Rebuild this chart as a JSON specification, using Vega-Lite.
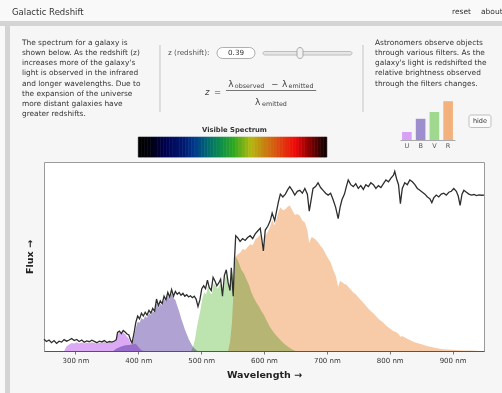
{
  "$schema": "https://vega.github.io/schema/vega-lite/v6.json",
  "width": 440,
  "height": 189,
  "autosize": "none",
  "padding": {"left": 44, "top": 162, "right": 18, "bottom": 42},
  "background": "#f6f6f6",
  "view": {"fill": "#ffffff", "stroke": "#9a9a9a", "strokeWidth": 1},
  "config": {"font": "DejaVu Sans"},
  "datasets": {
    "one": [{}],
    "spectrum": [
      {"nm":250,"flux":0.062},{"nm":254,"flux":0.050},{"nm":258,"flux":0.058},{"nm":262,"flux":0.044},{"nm":266,"flux":0.055},{"nm":270,"flux":0.040},{"nm":274,"flux":0.052},{"nm":278,"flux":0.047},{"nm":282,"flux":0.060},{"nm":286,"flux":0.052},{"nm":290,"flux":0.058},{"nm":294,"flux":0.066},{"nm":298,"flux":0.055},{"nm":302,"flux":0.061},{"nm":306,"flux":0.050},{"nm":310,"flux":0.058},{"nm":314,"flux":0.046},{"nm":318,"flux":0.053},{"nm":322,"flux":0.049},{"nm":326,"flux":0.057},{"nm":330,"flux":0.051},{"nm":334,"flux":0.044},{"nm":338,"flux":0.052},{"nm":342,"flux":0.048},{"nm":346,"flux":0.055},{"nm":350,"flux":0.045},{"nm":354,"flux":0.050},{"nm":358,"flux":0.047},{"nm":362,"flux":0.053},{"nm":365,"flux":0.060},
      {"nm":367,"flux":0.098},{"nm":370,"flux":0.105},{"nm":373,"flux":0.092},{"nm":376,"flux":0.108},{"nm":379,"flux":0.100},{"nm":382,"flux":0.090},{"nm":385,"flux":0.085},{"nm":388,"flux":0.055},{"nm":390,"flux":0.042},{"nm":393,"flux":0.090},{"nm":396,"flux":0.150},{"nm":399,"flux":0.185},{"nm":402,"flux":0.170},{"nm":405,"flux":0.200},{"nm":408,"flux":0.185},{"nm":411,"flux":0.205},{"nm":414,"flux":0.190},{"nm":417,"flux":0.215},{"nm":420,"flux":0.200},{"nm":423,"flux":0.225},{"nm":426,"flux":0.210},{"nm":429,"flux":0.275},{"nm":432,"flux":0.240},{"nm":435,"flux":0.265},{"nm":438,"flux":0.250},{"nm":441,"flux":0.290},{"nm":444,"flux":0.270},{"nm":447,"flux":0.310},{"nm":450,"flux":0.285},{"nm":453,"flux":0.325},{"nm":456,"flux":0.290},{"nm":459,"flux":0.315},{"nm":462,"flux":0.300},{"nm":465,"flux":0.310},{"nm":468,"flux":0.295},{"nm":471,"flux":0.305},{"nm":474,"flux":0.290},{"nm":477,"flux":0.298},{"nm":480,"flux":0.286},{"nm":483,"flux":0.292},{"nm":486,"flux":0.282},{"nm":489,"flux":0.290},{"nm":492,"flux":0.275},{"nm":495,"flux":0.235},{"nm":498,"flux":0.270},
      {"nm":501,"flux":0.330},{"nm":504,"flux":0.345},{"nm":507,"flux":0.330},{"nm":510,"flux":0.375},{"nm":513,"flux":0.335},{"nm":516,"flux":0.320},{"nm":519,"flux":0.390},{"nm":522,"flux":0.370},{"nm":525,"flux":0.345},{"nm":528,"flux":0.360},{"nm":531,"flux":0.380},{"nm":534,"flux":0.290},{"nm":537,"flux":0.400},{"nm":540,"flux":0.430},{"nm":543,"flux":0.360},{"nm":546,"flux":0.320},{"nm":548,"flux":0.440},{"nm":551,"flux":0.290},{"nm":553,"flux":0.480},{"nm":555,"flux":0.610},{"nm":558,"flux":0.600},{"nm":562,"flux":0.580},{"nm":566,"flux":0.595},{"nm":570,"flux":0.585},{"nm":574,"flux":0.600},{"nm":578,"flux":0.610},{"nm":582,"flux":0.595},{"nm":586,"flux":0.620},{"nm":590,"flux":0.635},{"nm":594,"flux":0.650},{"nm":597,"flux":0.580},{"nm":599,"flux":0.530},
      {"nm":602,"flux":0.640},{"nm":606,"flux":0.660},{"nm":610,"flux":0.690},{"nm":613,"flux":0.730},{"nm":617,"flux":0.690},{"nm":620,"flux":0.740},{"nm":623,"flux":0.790},{"nm":626,"flux":0.830},{"nm":630,"flux":0.815},{"nm":634,"flux":0.830},{"nm":638,"flux":0.855},{"nm":641,"flux":0.870},{"nm":645,"flux":0.850},{"nm":649,"flux":0.825},{"nm":653,"flux":0.845},{"nm":657,"flux":0.850},{"nm":661,"flux":0.835},{"nm":665,"flux":0.860},{"nm":669,"flux":0.830},{"nm":672,"flux":0.740},{"nm":675,"flux":0.800},{"nm":678,"flux":0.860},{"nm":682,"flux":0.870},{"nm":686,"flux":0.890},{"nm":690,"flux":0.865},{"nm":694,"flux":0.850},{"nm":698,"flux":0.835},
      {"nm":702,"flux":0.825},{"nm":706,"flux":0.835},{"nm":710,"flux":0.800},{"nm":714,"flux":0.760},{"nm":718,"flux":0.700},{"nm":721,"flux":0.760},{"nm":724,"flux":0.800},{"nm":728,"flux":0.830},{"nm":731,"flux":0.870},{"nm":734,"flux":0.905},{"nm":738,"flux":0.880},{"nm":742,"flux":0.870},{"nm":746,"flux":0.885},{"nm":750,"flux":0.860},{"nm":754,"flux":0.875},{"nm":758,"flux":0.855},{"nm":762,"flux":0.880},{"nm":766,"flux":0.870},{"nm":770,"flux":0.890},{"nm":774,"flux":0.880},{"nm":778,"flux":0.860},{"nm":782,"flux":0.875},{"nm":786,"flux":0.865},{"nm":790,"flux":0.885},{"nm":794,"flux":0.905},{"nm":798,"flux":0.895},
      {"nm":802,"flux":0.915},{"nm":806,"flux":0.930},{"nm":808,"flux":0.950},{"nm":811,"flux":0.910},{"nm":814,"flux":0.880},{"nm":817,"flux":0.780},{"nm":820,"flux":0.860},{"nm":824,"flux":0.890},{"nm":828,"flux":0.880},{"nm":832,"flux":0.905},{"nm":836,"flux":0.895},{"nm":840,"flux":0.880},{"nm":844,"flux":0.860},{"nm":848,"flux":0.850},{"nm":852,"flux":0.840},{"nm":856,"flux":0.830},{"nm":860,"flux":0.815},{"nm":864,"flux":0.805},{"nm":867,"flux":0.785},{"nm":870,"flux":0.810},{"nm":874,"flux":0.825},{"nm":878,"flux":0.815},{"nm":882,"flux":0.830},{"nm":886,"flux":0.835},{"nm":890,"flux":0.825},{"nm":894,"flux":0.840},{"nm":898,"flux":0.845},
      {"nm":902,"flux":0.860},{"nm":906,"flux":0.845},{"nm":909,"flux":0.820},{"nm":912,"flux":0.770},{"nm":915,"flux":0.830},{"nm":918,"flux":0.850},{"nm":922,"flux":0.840},{"nm":926,"flux":0.830},{"nm":930,"flux":0.825},{"nm":934,"flux":0.828},{"nm":938,"flux":0.822},{"nm":942,"flux":0.826},{"nm":946,"flux":0.824},{"nm":950,"flux":0.825}
    ],
    "filters": [
      {"filter":"U","nm":282,"flux":0},{"filter":"U","nm":286,"flux":0.025},{"filter":"U","nm":290,"flux":0.035},{"filter":"U","nm":294,"flux":0.042},{"filter":"U","nm":298,"flux":0.040},{"filter":"U","nm":302,"flux":0.046},{"filter":"U","nm":306,"flux":0.040},{"filter":"U","nm":310,"flux":0.045},{"filter":"U","nm":314,"flux":0.040},{"filter":"U","nm":318,"flux":0.044},{"filter":"U","nm":322,"flux":0.041},{"filter":"U","nm":326,"flux":0.046},{"filter":"U","nm":330,"flux":0.042},{"filter":"U","nm":334,"flux":0.038},{"filter":"U","nm":338,"flux":0.044},{"filter":"U","nm":342,"flux":0.042},{"filter":"U","nm":346,"flux":0.047},{"filter":"U","nm":350,"flux":0.040},{"filter":"U","nm":354,"flux":0.045},{"filter":"U","nm":358,"flux":0.044},{"filter":"U","nm":362,"flux":0.050},{"filter":"U","nm":365,"flux":0.058},{"filter":"U","nm":367,"flux":0.090},{"filter":"U","nm":370,"flux":0.098},{"filter":"U","nm":373,"flux":0.088},{"filter":"U","nm":376,"flux":0.098},{"filter":"U","nm":379,"flux":0.088},{"filter":"U","nm":382,"flux":0.075},{"filter":"U","nm":385,"flux":0.065},{"filter":"U","nm":388,"flux":0.040},{"filter":"U","nm":391,"flux":0.030},{"filter":"U","nm":394,"flux":0.040},{"filter":"U","nm":397,"flux":0.035},{"filter":"U","nm":400,"flux":0.022},{"filter":"U","nm":403,"flux":0.010},{"filter":"U","nm":406,"flux":0.003},{"filter":"U","nm":409,"flux":0},
      {"filter":"B","nm":360,"flux":0},{"filter":"B","nm":365,"flux":0.012},{"filter":"B","nm":370,"flux":0.020},{"filter":"B","nm":375,"flux":0.026},{"filter":"B","nm":380,"flux":0.030},{"filter":"B","nm":385,"flux":0.032},{"filter":"B","nm":390,"flux":0.035},{"filter":"B","nm":393,"flux":0.070},{"filter":"B","nm":396,"flux":0.120},{"filter":"B","nm":399,"flux":0.155},{"filter":"B","nm":402,"flux":0.150},{"filter":"B","nm":405,"flux":0.175},{"filter":"B","nm":408,"flux":0.165},{"filter":"B","nm":411,"flux":0.185},{"filter":"B","nm":414,"flux":0.175},{"filter":"B","nm":417,"flux":0.200},{"filter":"B","nm":420,"flux":0.190},{"filter":"B","nm":423,"flux":0.210},{"filter":"B","nm":426,"flux":0.200},{"filter":"B","nm":429,"flux":0.255},{"filter":"B","nm":432,"flux":0.225},{"filter":"B","nm":435,"flux":0.250},{"filter":"B","nm":438,"flux":0.240},{"filter":"B","nm":441,"flux":0.275},{"filter":"B","nm":444,"flux":0.260},{"filter":"B","nm":447,"flux":0.295},{"filter":"B","nm":450,"flux":0.270},{"filter":"B","nm":453,"flux":0.305},{"filter":"B","nm":456,"flux":0.280},{"filter":"B","nm":459,"flux":0.270},{"filter":"B","nm":462,"flux":0.240},{"filter":"B","nm":465,"flux":0.210},{"filter":"B","nm":468,"flux":0.175},{"filter":"B","nm":471,"flux":0.145},{"filter":"B","nm":474,"flux":0.115},{"filter":"B","nm":477,"flux":0.090},{"filter":"B","nm":480,"flux":0.065},{"filter":"B","nm":483,"flux":0.045},{"filter":"B","nm":486,"flux":0.028},{"filter":"B","nm":489,"flux":0.014},{"filter":"B","nm":492,"flux":0.005},{"filter":"B","nm":495,"flux":0},
      {"filter":"V","nm":484,"flux":0},{"filter":"V","nm":487,"flux":0.020},{"filter":"V","nm":490,"flux":0.060},{"filter":"V","nm":493,"flux":0.120},{"filter":"V","nm":496,"flux":0.170},{"filter":"V","nm":499,"flux":0.220},{"filter":"V","nm":502,"flux":0.280},{"filter":"V","nm":505,"flux":0.310},{"filter":"V","nm":508,"flux":0.300},{"filter":"V","nm":511,"flux":0.345},{"filter":"V","nm":514,"flux":0.310},{"filter":"V","nm":517,"flux":0.300},{"filter":"V","nm":520,"flux":0.360},{"filter":"V","nm":523,"flux":0.345},{"filter":"V","nm":526,"flux":0.330},{"filter":"V","nm":529,"flux":0.345},{"filter":"V","nm":532,"flux":0.360},{"filter":"V","nm":535,"flux":0.290},{"filter":"V","nm":538,"flux":0.380},{"filter":"V","nm":541,"flux":0.410},{"filter":"V","nm":544,"flux":0.350},{"filter":"V","nm":547,"flux":0.330},{"filter":"V","nm":550,"flux":0.420},{"filter":"V","nm":552,"flux":0.360},{"filter":"V","nm":554,"flux":0.500},{"filter":"V","nm":557,"flux":0.490},{"filter":"V","nm":560,"flux":0.465},{"filter":"V","nm":564,"flux":0.430},{"filter":"V","nm":568,"flux":0.410},{"filter":"V","nm":572,"flux":0.380},{"filter":"V","nm":576,"flux":0.350},{"filter":"V","nm":580,"flux":0.310},{"filter":"V","nm":584,"flux":0.280},{"filter":"V","nm":588,"flux":0.255},{"filter":"V","nm":592,"flux":0.235},{"filter":"V","nm":596,"flux":0.210},{"filter":"V","nm":600,"flux":0.190},{"filter":"V","nm":605,"flux":0.155},{"filter":"V","nm":610,"flux":0.125},{"filter":"V","nm":615,"flux":0.100},{"filter":"V","nm":620,"flux":0.080},{"filter":"V","nm":625,"flux":0.062},{"filter":"V","nm":630,"flux":0.045},{"filter":"V","nm":635,"flux":0.030},{"filter":"V","nm":640,"flux":0.018},{"filter":"V","nm":645,"flux":0.008},{"filter":"V","nm":650,"flux":0},
      {"filter":"R","nm":543,"flux":0},{"filter":"R","nm":546,"flux":0.050},{"filter":"R","nm":549,"flux":0.150},{"filter":"R","nm":551,"flux":0.280},{"filter":"R","nm":553,"flux":0.420},{"filter":"R","nm":555,"flux":0.500},{"filter":"R","nm":558,"flux":0.510},{"filter":"R","nm":562,"flux":0.520},{"filter":"R","nm":566,"flux":0.540},{"filter":"R","nm":570,"flux":0.535},{"filter":"R","nm":574,"flux":0.550},{"filter":"R","nm":578,"flux":0.565},{"filter":"R","nm":582,"flux":0.560},{"filter":"R","nm":586,"flux":0.590},{"filter":"R","nm":590,"flux":0.600},{"filter":"R","nm":594,"flux":0.615},{"filter":"R","nm":597,"flux":0.560},{"filter":"R","nm":599,"flux":0.520},{"filter":"R","nm":602,"flux":0.610},{"filter":"R","nm":606,"flux":0.630},{"filter":"R","nm":610,"flux":0.660},{"filter":"R","nm":613,"flux":0.695},{"filter":"R","nm":617,"flux":0.665},{"filter":"R","nm":620,"flux":0.700},{"filter":"R","nm":623,"flux":0.735},{"filter":"R","nm":626,"flux":0.760},{"filter":"R","nm":630,"flux":0.745},{"filter":"R","nm":634,"flux":0.750},{"filter":"R","nm":638,"flux":0.765},{"filter":"R","nm":641,"flux":0.770},{"filter":"R","nm":645,"flux":0.745},{"filter":"R","nm":649,"flux":0.720},{"filter":"R","nm":653,"flux":0.725},{"filter":"R","nm":657,"flux":0.715},{"filter":"R","nm":661,"flux":0.690},{"filter":"R","nm":665,"flux":0.680},{"filter":"R","nm":669,"flux":0.640},{"filter":"R","nm":672,"flux":0.570},{"filter":"R","nm":675,"flux":0.600},{"filter":"R","nm":678,"flux":0.600},{"filter":"R","nm":682,"flux":0.590},{"filter":"R","nm":686,"flux":0.575},{"filter":"R","nm":690,"flux":0.555},{"filter":"R","nm":694,"flux":0.540},{"filter":"R","nm":698,"flux":0.515},{"filter":"R","nm":702,"flux":0.490},{"filter":"R","nm":706,"flux":0.470},{"filter":"R","nm":710,"flux":0.430},{"filter":"R","nm":714,"flux":0.400},{"filter":"R","nm":718,"flux":0.340},{"filter":"R","nm":721,"flux":0.370},{"filter":"R","nm":724,"flux":0.365},{"filter":"R","nm":728,"flux":0.355},{"filter":"R","nm":731,"flux":0.350},{"filter":"R","nm":734,"flux":0.340},{"filter":"R","nm":738,"flux":0.325},{"filter":"R","nm":742,"flux":0.310},{"filter":"R","nm":746,"flux":0.300},{"filter":"R","nm":750,"flux":0.285},{"filter":"R","nm":754,"flux":0.270},{"filter":"R","nm":758,"flux":0.255},{"filter":"R","nm":762,"flux":0.240},{"filter":"R","nm":766,"flux":0.225},{"filter":"R","nm":770,"flux":0.210},{"filter":"R","nm":774,"flux":0.200},{"filter":"R","nm":778,"flux":0.185},{"filter":"R","nm":782,"flux":0.170},{"filter":"R","nm":786,"flux":0.160},{"filter":"R","nm":790,"flux":0.150},{"filter":"R","nm":794,"flux":0.135},{"filter":"R","nm":798,"flux":0.125},{"filter":"R","nm":802,"flux":0.115},{"filter":"R","nm":806,"flux":0.105},{"filter":"R","nm":810,"flux":0.100},{"filter":"R","nm":814,"flux":0.090},{"filter":"R","nm":817,"flux":0.075},{"filter":"R","nm":820,"flux":0.080},{"filter":"R","nm":824,"flux":0.072},{"filter":"R","nm":828,"flux":0.065},{"filter":"R","nm":832,"flux":0.058},{"filter":"R","nm":836,"flux":0.052},{"filter":"R","nm":840,"flux":0.046},{"filter":"R","nm":846,"flux":0.040},{"filter":"R","nm":852,"flux":0.034},{"filter":"R","nm":858,"flux":0.028},{"filter":"R","nm":864,"flux":0.022},{"filter":"R","nm":870,"flux":0.018},{"filter":"R","nm":876,"flux":0.014},{"filter":"R","nm":882,"flux":0.011},{"filter":"R","nm":890,"flux":0.008},{"filter":"R","nm":900,"flux":0.006},{"filter":"R","nm":910,"flux":0.004},{"filter":"R","nm":920,"flux":0.003},{"filter":"R","nm":930,"flux":0.002},{"filter":"R","nm":938,"flux":0.001},{"filter":"R","nm":942,"flux":0}
    ],
    "strip": [
      {"lo":400,"hi":405},{"lo":405,"hi":410},{"lo":410,"hi":415},{"lo":415,"hi":420},{"lo":420,"hi":425},{"lo":425,"hi":430},{"lo":430,"hi":435},{"lo":435,"hi":440},{"lo":440,"hi":445},{"lo":445,"hi":450},{"lo":450,"hi":455},{"lo":455,"hi":460},{"lo":460,"hi":465},{"lo":465,"hi":470},{"lo":470,"hi":475},{"lo":475,"hi":480},{"lo":480,"hi":485},{"lo":485,"hi":490},{"lo":490,"hi":495},{"lo":495,"hi":500},{"lo":500,"hi":505},{"lo":505,"hi":510},{"lo":510,"hi":515},{"lo":515,"hi":520},{"lo":520,"hi":525},{"lo":525,"hi":530},{"lo":530,"hi":535},{"lo":535,"hi":540},{"lo":540,"hi":545},{"lo":545,"hi":550},{"lo":550,"hi":555},{"lo":555,"hi":560},{"lo":560,"hi":565},{"lo":565,"hi":570},{"lo":570,"hi":575},{"lo":575,"hi":580},{"lo":580,"hi":585},{"lo":585,"hi":590},{"lo":590,"hi":595},{"lo":595,"hi":600},{"lo":600,"hi":605},{"lo":605,"hi":610},{"lo":610,"hi":615},{"lo":615,"hi":620},{"lo":620,"hi":625},{"lo":625,"hi":630},{"lo":630,"hi":635},{"lo":635,"hi":640},{"lo":640,"hi":645},{"lo":645,"hi":650},{"lo":650,"hi":655},{"lo":655,"hi":660},{"lo":660,"hi":665},{"lo":665,"hi":670},{"lo":670,"hi":675},{"lo":675,"hi":680},{"lo":680,"hi":685},{"lo":685,"hi":690},{"lo":690,"hi":695},{"lo":695,"hi":700}
    ],
    "bars": [
      {"filter":"U","brightness":0.2},{"filter":"B","brightness":0.53},{"filter":"V","brightness":0.7},{"filter":"R","brightness":0.97}
    ]
  },
  "layer": [
    {
      "layer": [
        {"data": {"name": "one"}, "mark": {"type": "rect", "color": "#f9f9f9"}, "encoding": {"x": {"datum": 150}, "x2": {"datum": 1000}, "y": {"datum": 1.746}, "y2": {"datum": 2.2}}},
        {"data": {"name": "one"}, "mark": {"type": "rect", "color": "#d4d4d4"}, "encoding": {"x": {"datum": 150}, "x2": {"datum": 1000}, "y": {"datum": 1.7196}, "y2": {"datum": 1.746}}},
        {"data": {"name": "one"}, "mark": {"type": "rect", "color": "#f9f9f9"}, "encoding": {"x": {"datum": 150}, "x2": {"datum": 187.95}, "y": {"datum": -0.5}, "y2": {"datum": 1.7196}}},
        {"data": {"name": "one"}, "mark": {"type": "rect", "color": "#d4d4d4"}, "encoding": {"x": {"datum": 187.95}, "x2": {"datum": 195.91}, "y": {"datum": -0.5}, "y2": {"datum": 1.7196}}},
        {
          "data": {"name": "filters"},
          "mark": {"type": "area", "blend": "multiply", "opacity": 1},
          "encoding": {
            "x": {"field": "nm", "type": "quantitative", "scale": {"domain": [250, 950], "nice": false, "zero": false},
              "axis": {"values": [300,350,400,450,500,550,600,650,700,750,800,850,900], "labelExpr": "datum.value % 100 === 0 ? datum.value + ' nm' : ''", "grid": false, "tickSize": 3, "tickColor": "#777", "domainColor": "#555", "labelFontSize": 7, "labelColor": "#333", "labelPadding": 2, "title": "Wavelength →", "titleFontSize": 9.5, "titleFontWeight": "bold", "titleColor": "#222", "titlePadding": 6}},
            "y": {"field": "flux", "type": "quantitative", "stack": null, "scale": {"domain": [0, 1], "nice": false},
              "axis": {"title": "Flux →", "labels": false, "ticks": false, "domain": false, "grid": false, "titleFontSize": 9.5, "titleFontWeight": "bold", "titleColor": "#222", "titlePadding": 10}},
            "color": {"field": "filter", "type": "nominal", "scale": {"domain": ["U","B","V","R"], "range": ["#dcaaf4","#b0a3d4","#bde4af","#f7cba7"]}, "legend": null}
          }
        },
        {
          "data": {"name": "spectrum"},
          "mark": {"type": "line", "color": "#2e2e2e", "strokeWidth": 1.3},
          "encoding": {"x": {"field": "nm", "type": "quantitative"}, "y": {"field": "flux", "type": "quantitative"}}
        },
        {
          "data": {"name": "strip"},
          "mark": {"type": "rect", "strokeWidth": 0.6},
          "encoding": {
            "x": {"field": "lo", "type": "quantitative"},
            "x2": {"field": "hi"},
            "y": {"datum": 1.026},
            "y2": {"datum": 1.132},
            "color": {"field": "lo", "type": "quantitative", "legend": null, "scale": {"domain": [400,418,440,470,488,508,530,550,577,599,625,648,672,695], "range": ["#000000","#00000f","#000050","#001a70","#003a8c","#006a70","#10904a","#30a820","#b4b810","#c88010","#e04010","#f00808","#800000","#100000"], "interpolate": "rgb"}},
            "stroke": {"field": "lo", "type": "quantitative", "legend": null, "scale": {"domain": [400,418,440,470,488,508,530,550,577,599,625,648,672,695], "range": ["#000000","#00000f","#000050","#001a70","#003a8c","#006a70","#10904a","#30a820","#b4b810","#c88010","#e04010","#f00808","#800000","#100000"], "interpolate": "rgb"}}
          }
        },
        {"data": {"name": "one"}, "mark": {"type": "text", "text": "Visible Spectrum", "fontSize": 6.8, "fontWeight": "bold", "color": "#333", "align": "center", "baseline": "middle"}, "encoding": {"x": {"datum": 553}, "y": {"datum": 1.169}}},
        {"data": {"name": "one"}, "mark": {"type": "text", "text": "Galactic Redshift", "fontSize": 8.5, "color": "#333", "align": "left", "baseline": "middle"}, "encoding": {"x": {"datum": 199.1}, "y": {"datum": 1.7937}}},
        {"data": {"name": "one"}, "mark": {"type": "text", "text": "reset", "fontSize": 7.5, "color": "#333", "align": "left", "baseline": "middle"}, "encoding": {"x": {"datum": 899.1}, "y": {"datum": 1.7937}}},
        {"data": {"name": "one"}, "mark": {"type": "text", "text": "about", "fontSize": 7.5, "color": "#333", "align": "left", "baseline": "middle"}, "encoding": {"x": {"datum": 945.2}, "y": {"datum": 1.7937}}},
        {"data": {"name": "one"}, "mark": {"type": "text", "text": ["The spectrum for a galaxy is", "shown below. As the redshift (z)", "increases more of the galaxy's", "light is observed in the infrared", "and longer wavelengths. Due to", "the expansion of the universe", "more distant galaxies have", "greater redshifts."], "lineHeight": 10.14, "fontSize": 7.4, "color": "#333", "align": "left", "baseline": "top"}, "encoding": {"x": {"datum": 215.0}, "y": {"datum": 1.6508}}},
        {"data": {"name": "one"}, "mark": {"type": "text", "text": ["Astronomers observe objects", "through various filters. As the", "galaxy's light is redshifted the", "relative brightness observed", "through the filters changes."], "lineHeight": 10.14, "fontSize": 7.4, "color": "#333", "align": "left", "baseline": "top"}, "encoding": {"x": {"datum": 776.6}, "y": {"datum": 1.6508}}},
        {"data": {"name": "one"}, "mark": {"type": "rule", "color": "#c4c4c4", "strokeWidth": 1}, "encoding": {"x": {"datum": 434.5}, "y": {"datum": 1.619}, "y2": {"datum": 1.2646}}},
        {"data": {"name": "one"}, "mark": {"type": "rule", "color": "#c4c4c4", "strokeWidth": 1}, "encoding": {"x": {"datum": 757.5}, "y": {"datum": 1.619}, "y2": {"datum": 1.2646}}},
        {"data": {"name": "one"}, "mark": {"type": "text", "text": "z (redshift):", "fontSize": 7.2, "color": "#555", "align": "left", "baseline": "middle"}, "encoding": {"x": {"datum": 447.3}, "y": {"datum": 1.5767}}},
        {"data": {"name": "one"}, "mark": {"type": "rect", "fill": "#ffffff", "stroke": "#9a9a9a", "strokeWidth": 0.8, "cornerRadius": 5.5}, "encoding": {"x": {"datum": 525.2}, "x2": {"datum": 585.7}, "y": {"datum": 1.6058}, "y2": {"datum": 1.5476}}},
        {"data": {"name": "one"}, "mark": {"type": "text", "text": "0.39", "fontSize": 7.2, "color": "#333", "align": "center", "baseline": "middle"}, "encoding": {"x": {"datum": 555.5}, "y": {"datum": 1.5767}}},
        {"data": {"name": "one"}, "mark": {"type": "rect", "fill": "#e6e6e6", "stroke": "#b0b0b0", "strokeWidth": 0.8, "cornerRadius": 2}, "encoding": {"x": {"datum": 598.4}, "x2": {"datum": 740.0}, "y": {"datum": 1.5847}, "y2": {"datum": 1.5661}}},
        {"data": {"name": "one"}, "mark": {"type": "rect", "fill": "#f2f2f2", "stroke": "#999999", "strokeWidth": 0.8, "cornerRadius": 3}, "encoding": {"x": {"datum": 652.5}, "x2": {"datum": 662.0}, "y": {"datum": 1.6058}, "y2": {"datum": 1.5476}}},
        {"data": {"name": "one"}, "mark": {"type": "text", "text": "z", "fontSize": 8.5, "fontStyle": "italic", "color": "#444", "align": "left", "baseline": "middle"}, "encoding": {"x": {"datum": 506.1}, "y": {"datum": 1.370}}},
        {"data": {"name": "one"}, "mark": {"type": "text", "text": "=", "fontSize": 8.5, "color": "#444", "align": "left", "baseline": "middle"}, "encoding": {"x": {"datum": 520.5}, "y": {"datum": 1.370}}},
        {"data": {"name": "one"}, "mark": {"type": "text", "text": "λ", "fontSize": 9, "color": "#444", "align": "left", "baseline": "middle"}, "encoding": {"x": {"datum": 543.0}, "y": {"datum": 1.4127}}},
        {"data": {"name": "one"}, "mark": {"type": "text", "text": "observed", "fontSize": 6.4, "color": "#444", "align": "left", "baseline": "middle"}, "encoding": {"x": {"datum": 553.5}, "y": {"datum": 1.402}}},
        {"data": {"name": "one"}, "mark": {"type": "text", "text": "−", "fontSize": 8.5, "color": "#444", "align": "left", "baseline": "middle"}, "encoding": {"x": {"datum": 611.5}, "y": {"datum": 1.4127}}},
        {"data": {"name": "one"}, "mark": {"type": "text", "text": "λ", "fontSize": 9, "color": "#444", "align": "left", "baseline": "middle"}, "encoding": {"x": {"datum": 628.5}, "y": {"datum": 1.4127}}},
        {"data": {"name": "one"}, "mark": {"type": "text", "text": "emitted", "fontSize": 6.4, "color": "#444", "align": "left", "baseline": "middle"}, "encoding": {"x": {"datum": 639.0}, "y": {"datum": 1.402}}},
        {"data": {"name": "one"}, "mark": {"type": "rule", "color": "#555", "strokeWidth": 0.8}, "encoding": {"x": {"datum": 539.5}, "x2": {"datum": 683.0}, "y": {"datum": 1.3783}}},
        {"data": {"name": "one"}, "mark": {"type": "text", "text": "λ", "fontSize": 9, "color": "#444", "align": "left", "baseline": "middle"}, "encoding": {"x": {"datum": 585.7}, "y": {"datum": 1.3201}}},
        {"data": {"name": "one"}, "mark": {"type": "text", "text": "emitted", "fontSize": 6.4, "color": "#444", "align": "left", "baseline": "middle"}, "encoding": {"x": {"datum": 596.8}, "y": {"datum": 1.3095}}},
        {"data": {"name": "one"}, "mark": {"type": "rect", "fill": "#fbfbfb", "stroke": "#b0b0b0", "strokeWidth": 0.8, "cornerRadius": 2}, "encoding": {"x": {"datum": 926.1}, "x2": {"datum": 961.1}, "y": {"datum": 1.2487}, "y2": {"datum": 1.1825}}},
        {"data": {"name": "one"}, "mark": {"type": "text", "text": "hide", "fontSize": 6.5, "color": "#333", "align": "center", "baseline": "middle"}, "encoding": {"x": {"datum": 943.6}, "y": {"datum": 1.2169}}}
      ],
      "resolve": {"scale": {"color": "independent", "stroke": "independent"}}
    },
    {
      "data": {"name": "bars"},
      "mark": {"type": "bar"},
      "encoding": {
        "x": {"field": "filter", "type": "nominal", "sort": ["U","B","V","R"], "scale": {"range": [356, 411], "paddingInner": 0.3, "paddingOuter": 0.15},
          "axis": {"orient": "bottom", "offset": -211, "ticks": false, "title": null, "labelAngle": 0, "labelFontSize": 6.5, "labelColor": "#555", "labelPadding": 2, "domainColor": "#aaaaaa", "grid": false}},
        "y": {"field": "brightness", "type": "quantitative", "scale": {"domain": [0, 1.2], "range": [-22, -70], "nice": false}, "axis": null},
        "color": {"field": "filter", "type": "nominal", "scale": {"domain": ["U","B","V","R"], "range": ["#d7a2f5","#9d8fcd","#a0d890","#f3b27d"]}, "legend": null}
      }
    }
  ],
  "resolve": {"scale": {"x": "independent", "y": "independent", "color": "independent"}}
}
